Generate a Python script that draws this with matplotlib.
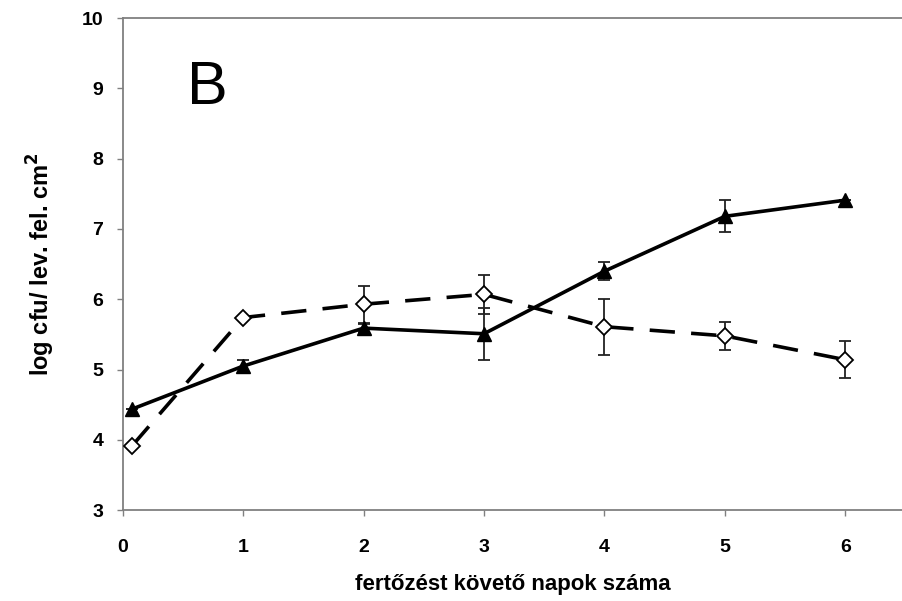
import numpy as np
import matplotlib.pyplot as plt

plt.rcParams["font.family"] = ["Liberation Sans", "DejaVu Sans"]

# days after infection (points slightly offset at day 0 as plotted)
days = [0.08, 1, 2, 3, 4, 5, 6]

# filled triangles, solid line
tri_mean = [4.44, 5.05, 5.59, 5.51, 6.40, 7.18, 7.41]
tri_err = [0.0, 0.08, 0.06, 0.37, 0.13, 0.23, 0.0]

# open diamonds, dashed line
dia_mean = [3.92, 5.74, 5.93, 6.07, 5.61, 5.48, 5.14]
dia_err = [0.0, 0.0, 0.26, 0.28, 0.40, 0.20, 0.26]


def main():
    fig = plt.figure(figsize=(9.02, 6.01), dpi=100)
    ax = fig.add_axes([0.136, 0.151, 0.864, 0.819])

    ax.errorbar(days, dia_mean, yerr=dia_err, fmt="none", ecolor="#222222",
                elinewidth=1.3, capsize=4, capthick=1.3, zorder=2)
    ax.errorbar(days, tri_mean, yerr=tri_err, fmt="none", ecolor="#222222",
                elinewidth=1.3, capsize=4, capthick=1.3, zorder=2)

    ax.plot(days, dia_mean, color="black", lw=2.6, dashes=(7, 4.5),
            marker="D", markersize=8.5, markerfacecolor="white",
            markeredgecolor="black", markeredgewidth=1.3, zorder=3)
    ax.plot(days, tri_mean, color="black", lw=2.6, marker="^",
            markersize=10, markerfacecolor="black", markeredgecolor="black", zorder=4)

    ax.set_xlim(0, 6.47)
    ax.set_ylim(3, 10)
    ax.set_xticks(range(0, 7))
    ax.set_yticks(range(3, 11))

    for side in ("top", "left", "bottom"):
        ax.spines[side].set_color("#808080")
        ax.spines[side].set_linewidth(1.3)
    ax.spines["right"].set_visible(False)

    ax.tick_params(axis="both", direction="out", length=4, width=1,
                   color="#808080", labelsize=14)
    ax.tick_params(axis="x", pad=17)
    ax.tick_params(axis="y", pad=10)
    for lab in ax.get_xticklabels() + ax.get_yticklabels():
        lab.set_fontweight("bold")

    ax.set_xlabel("fertőzést követő napok száma", fontsize=16, fontweight="bold", labelpad=13)
    ax.set_ylabel("log cfu/ lev. fel. cm$^\\mathbf{2}$", fontsize=17, fontweight="bold", labelpad=18)

    ax.text(0.53, 9.0, "B", fontsize=44, ha="left", va="center")

    fig.savefig("out.png", dpi=100)


if __name__ == "__main__":
    main()
